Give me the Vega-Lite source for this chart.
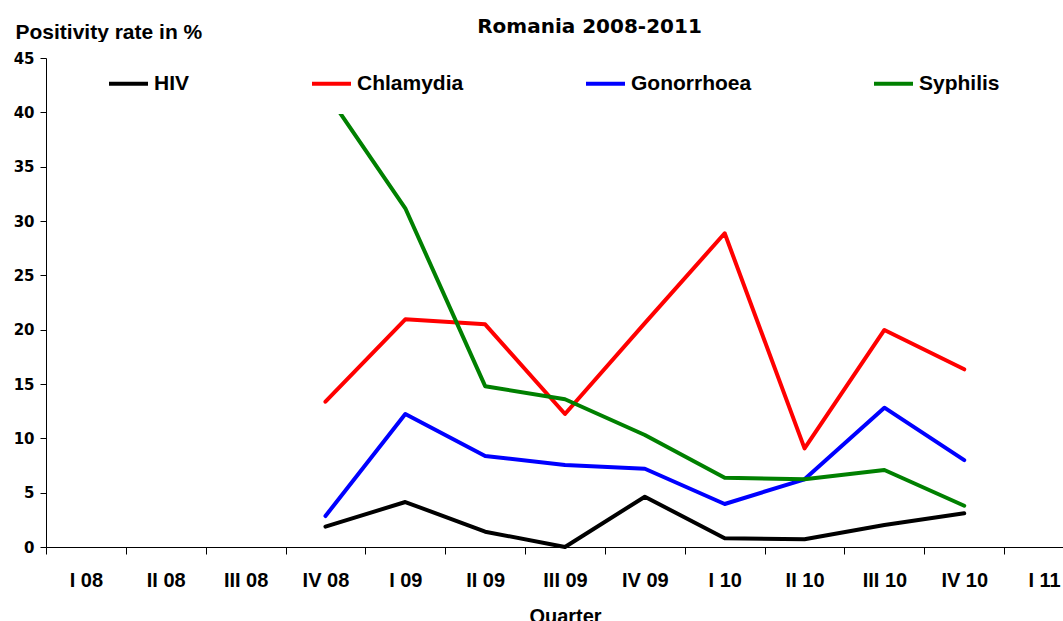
{
  "$schema": "https://vega.github.io/schema/vega-lite/v6.json",
  "width": 1017,
  "height": 489,
  "autosize": {"type": "none"},
  "padding": {"left": 46, "top": 58, "right": 0, "bottom": 74},
  "background": "white",
  "config": {"view": {"stroke": null}},
  "title": {"text": "Romania 2008-2011", "font": "DejaVu Sans", "fontSize": 20, "fontWeight": "bold", "color": "black", "anchor": "middle", "frame": "group", "dx": 35, "dy": 20},
  "data": {"values": [
    {"quarter": "IV 08", "disease": "HIV", "rate": 1.87},
    {"quarter": "I 09", "disease": "HIV", "rate": 4.14},
    {"quarter": "II 09", "disease": "HIV", "rate": 1.41},
    {"quarter": "III 09", "disease": "HIV", "rate": 0.0},
    {"quarter": "IV 09", "disease": "HIV", "rate": 4.63},
    {"quarter": "I 10", "disease": "HIV", "rate": 0.8},
    {"quarter": "II 10", "disease": "HIV", "rate": 0.71},
    {"quarter": "III 10", "disease": "HIV", "rate": 2.02},
    {"quarter": "IV 10", "disease": "HIV", "rate": 3.1},
    {"quarter": "IV 08", "disease": "Chlamydia", "rate": 13.37},
    {"quarter": "I 09", "disease": "Chlamydia", "rate": 20.95},
    {"quarter": "II 09", "disease": "Chlamydia", "rate": 20.49},
    {"quarter": "III 09", "disease": "Chlamydia", "rate": 12.24},
    {"quarter": "IV 09", "disease": "Chlamydia", "rate": 20.6},
    {"quarter": "I 10", "disease": "Chlamydia", "rate": 28.87},
    {"quarter": "II 10", "disease": "Chlamydia", "rate": 9.08},
    {"quarter": "III 10", "disease": "Chlamydia", "rate": 19.97},
    {"quarter": "IV 10", "disease": "Chlamydia", "rate": 16.35},
    {"quarter": "IV 08", "disease": "Gonorrhoea", "rate": 2.85},
    {"quarter": "I 09", "disease": "Gonorrhoea", "rate": 12.24},
    {"quarter": "II 09", "disease": "Gonorrhoea", "rate": 8.37},
    {"quarter": "III 09", "disease": "Gonorrhoea", "rate": 7.55},
    {"quarter": "IV 09", "disease": "Gonorrhoea", "rate": 7.2},
    {"quarter": "I 10", "disease": "Gonorrhoea", "rate": 3.96},
    {"quarter": "II 10", "disease": "Gonorrhoea", "rate": 6.23},
    {"quarter": "III 10", "disease": "Gonorrhoea", "rate": 12.82},
    {"quarter": "IV 10", "disease": "Gonorrhoea", "rate": 8.0},
    {"quarter": "IV 08", "disease": "Syphilis", "rate": 41.9},
    {"quarter": "I 09", "disease": "Syphilis", "rate": 31.17},
    {"quarter": "II 09", "disease": "Syphilis", "rate": 14.8},
    {"quarter": "III 09", "disease": "Syphilis", "rate": 13.6},
    {"quarter": "IV 09", "disease": "Syphilis", "rate": 10.31},
    {"quarter": "I 10", "disease": "Syphilis", "rate": 6.38},
    {"quarter": "II 10", "disease": "Syphilis", "rate": 6.23},
    {"quarter": "III 10", "disease": "Syphilis", "rate": 7.09},
    {"quarter": "IV 10", "disease": "Syphilis", "rate": 3.8}
  ]},
  "mark": {"type": "line", "strokeWidth": 4, "strokeCap": "round", "strokeJoin": "round"},
  "encoding": {
    "x": {
      "field": "quarter", "type": "nominal", "bandPosition": 0.5,
      "scale": {"type": "band", "domain": ["I 08","II 08","III 08","IV 08","I 09","II 09","III 09","IV 09","I 10","II 10","III 10","IV 10","I 11"], "range": [0, 1038], "paddingInner": 0, "paddingOuter": 0},
      "axis": {"title": "Quarter", "tickBand": "extent", "labelAngle": 0, "labelFont": "Liberation Sans", "labelFontSize": 20, "labelFontWeight": "bold", "labelColor": "black", "tickSize": 7, "tickColor": "black", "domainColor": "black", "labelPadding": 16, "titleFont": "Liberation Sans", "titleFontSize": 20, "titleFontWeight": "bold", "titleColor": "black", "titleY": 75, "titleBaseline": "alphabetic", "grid": false, "labelOverlap": false}
    },
    "y": {
      "field": "rate", "type": "quantitative",
      "scale": {"domain": [0, 45], "nice": false},
      "axis": {"title": "Positivity rate in %", "titleAngle": 0, "titleAlign": "left", "titleBaseline": "alphabetic", "titleX": -31, "titleY": -20, "titleFont": "Liberation Sans", "titleFontSize": 21, "titleFontWeight": "bold", "titleColor": "black", "values": [0,5,10,15,20,25,30,35,40,45], "labelFont": "DejaVu Sans", "labelFontSize": 15, "labelFontWeight": "bold", "labelColor": "black", "labelPadding": 6, "tickSize": 6, "tickColor": "black", "domainColor": "black", "grid": false}
    },
    "color": {
      "field": "disease", "type": "nominal",
      "scale": {"domain": ["HIV", "Chlamydia", "Gonorrhoea", "Syphilis"], "range": ["#000000", "#ff0000", "#0000ff", "#008000"]},
      "legend": {"orient": "none", "legendX": 41, "legendY": -16, "direction": "horizontal", "columns": 4, "columnPadding": 114, "gridAlign": "each", "title": null, "symbolType": "stroke", "symbolSize": 1521, "symbolStrokeWidth": 4, "labelFont": "Liberation Sans", "labelFontSize": 21, "labelFontWeight": "bold", "labelColor": "black", "labelOffset": 4, "fillColor": "white", "padding": 20, "labelLimit": 300}
    }
  }
}
